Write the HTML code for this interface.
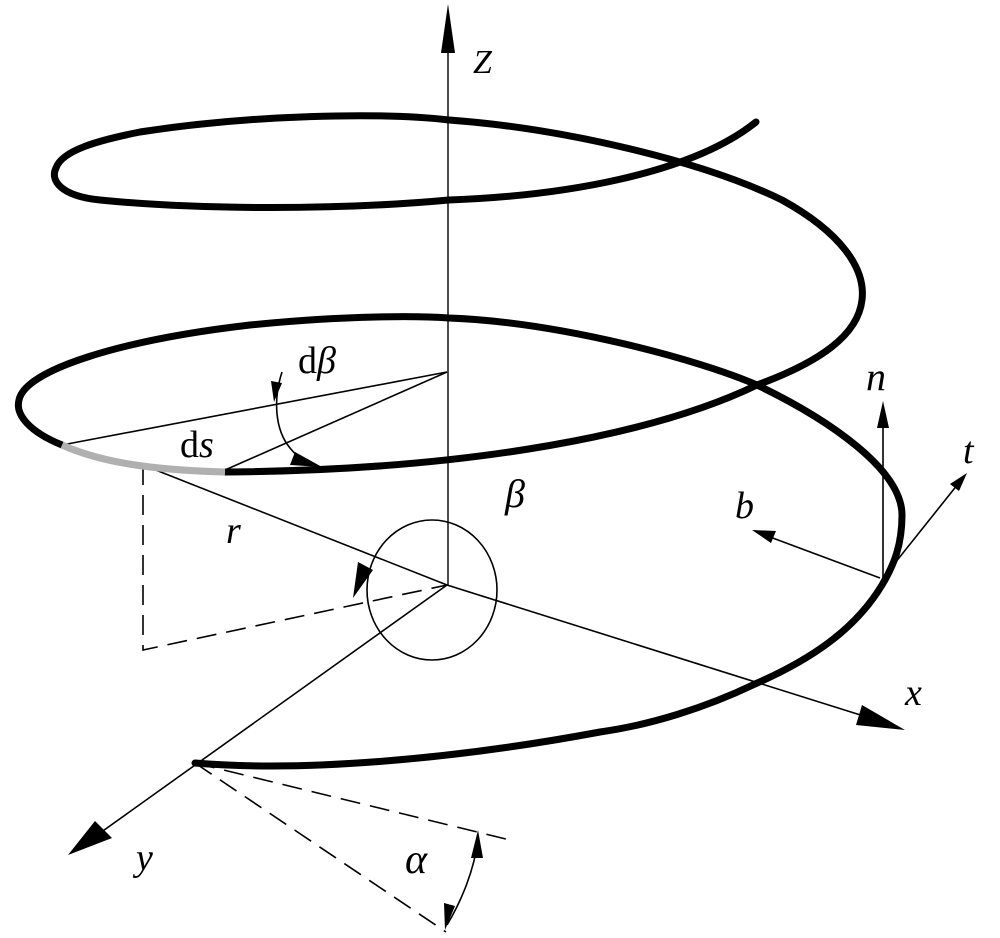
<!DOCTYPE html>
<html><head><meta charset="utf-8"><style>html,body{margin:0;padding:0;background:#fff}svg{display:block}.t{font-family:"Liberation Serif","DejaVu Serif",serif}</style></head>
<body>
<svg width="1000" height="938" viewBox="0 0 1000 938" xmlns="http://www.w3.org/2000/svg">
<g fill="none" stroke="#000" stroke-width="1.6">
<line x1="448" y1="50" x2="448" y2="586" stroke-width="1.4"/>
<line x1="447" y1="585" x2="870" y2="718"/>
<line x1="143" y1="465" x2="447" y2="585"/>
<line x1="447" y1="585" x2="100" y2="833"/>
<line x1="447" y1="372" x2="62" y2="445"/>
<line x1="447" y1="372" x2="225" y2="470"/>
<polyline points="143,465 143,650 447,585" stroke-dasharray="20,10"/>
<line x1="195" y1="763" x2="510" y2="840" stroke-dasharray="20,10"/>
<line x1="195" y1="763" x2="446" y2="932" stroke-dasharray="20,10"/>
<ellipse cx="432" cy="590" rx="65" ry="70"/>
<path d="M282,372 C273,400 275,430 290,448 C298,458 308,465 322,468"/>
<path d="M478,840 C474,870 462,900 447,925"/>
<line x1="883" y1="578" x2="883" y2="420"/>
<line x1="883" y1="578" x2="958" y2="484"/>
<line x1="880" y1="578" x2="770" y2="537"/>
</g>
<g fill="none" stroke="#000" stroke-width="7" stroke-linecap="round">
<path d="M756,122 C690,175 560,196 449,200 C340,210 200,210 100,200 C60,196 50,180 56,168 C62,150 100,140 140,132 C250,115 380,112 449,120 C560,128 700,160 782,200 C840,232 866,268 862,300 C858,335 820,362 757,385 C660,432 480,470 225,472"/>
<path d="M62,445 C30,432 15,415 19,400 C25,370 120,340 250,325 C350,315 420,316 449,318 C560,322 700,360 757,385 C830,420 902,470 902,515 C902,545 894,565 882,585 C855,630 810,660 755,684 C705,708 650,725 600,732 C450,760 300,772 195,763"/>
</g>
<path d="M225,472 C150,470 100,462 62,445" fill="none" stroke="#b0b0b0" stroke-width="7"/>
<g fill="#000">
<polygon points="448,4 441,53 455,53"/>
<polygon points="905,730 862,705 856,725"/>
<polygon points="68,855 95,821 112,838"/>
<polygon points="883,401 877,428 889,428"/>
<polygon points="967,473 950,484 959,491"/>
<polygon points="752,530 776,531 771,543"/>
<polygon points="353,598 358,562 373,570"/>
<polygon points="274,402 271,381 282,383"/>
<polygon points="322,467 295,452 290,465"/>
<polygon points="478,830 471,858 483,858"/>
<polygon points="445,930 444,903 455,906"/>
</g>
<g class="t" font-size="38" fill="#000">
<text x="473" y="73" font-style="italic" font-size="34">Z</text>
<text x="298" y="373">d<tspan font-style="italic">β</tspan></text>
<text x="180" y="457">d<tspan font-style="italic">s</tspan></text>
<text x="226" y="543" font-style="italic">r</text>
<text x="505" y="507" font-style="italic" font-size="40">β</text>
<text x="866" y="390" font-style="italic" font-size="40">n</text>
<text x="963" y="463" font-style="italic">t</text>
<text x="735" y="518" font-style="italic">b</text>
<text x="905" y="705" font-style="italic">x</text>
<text x="136" y="870" font-style="italic">y</text>
<text x="405" y="873" font-style="italic" font-size="42">α</text>
</g>
</svg>
</body></html>
